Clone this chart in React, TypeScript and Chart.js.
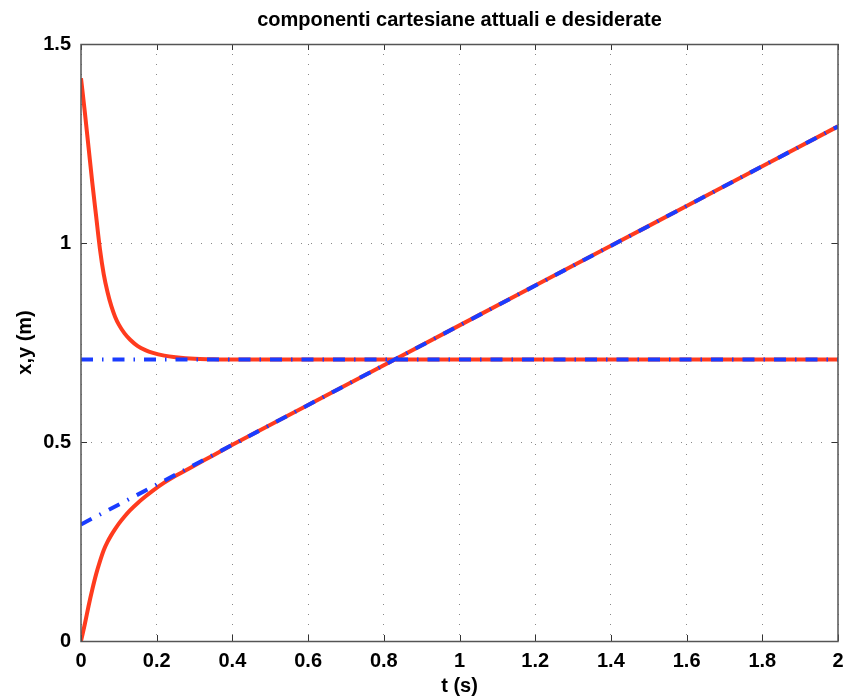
import React, { useEffect, useRef } from "react";
import { Chart, registerables } from "chart.js";

Chart.register(...registerables);

// time samples of the actual (measured) trajectories
const tActual = [0, 0.01, 0.02, 0.03, 0.04, 0.05, 0.06, 0.07, 0.08, 0.09, 0.1, 0.115, 0.13, 0.15, 0.17, 0.19, 0.22, 0.25, 0.3, 0.35, 0.4, 0.6, 0.8, 1.0, 1.2, 1.4, 1.6, 1.8, 2.0];
// actual x component (falls from 1.414 to 0.707)
const xActual = [1.414, 1.33, 1.24, 1.15, 1.067, 0.985, 0.922, 0.877, 0.842, 0.815, 0.795, 0.773, 0.757, 0.741, 0.731, 0.724, 0.717, 0.713, 0.709, 0.708, 0.707, 0.707, 0.707, 0.707, 0.707, 0.707, 0.707, 0.707, 0.707];
// actual y component (rises from 0 onto the desired ramp)
const yActual = [0, 0.042, 0.088, 0.13, 0.168, 0.2, 0.228, 0.249, 0.266, 0.281, 0.295, 0.313, 0.329, 0.347, 0.363, 0.378, 0.398, 0.415, 0.441, 0.467, 0.493, 0.593, 0.693, 0.793, 0.893, 0.993, 1.093, 1.193, 1.293];

// desired trajectories
const tDesired = [0, 2];
const xDesired = [0.7071, 0.7071];
const yDesired = [0.2929, 1.2929];

// axis ticks
const xTicks = [0, 0.2, 0.4, 0.6, 0.8, 1, 1.2, 1.4, 1.6, 1.8, 2];
const xTickLabels = ["0", "0.2", "0.4", "0.6", "0.8", "1", "1.2", "1.4", "1.6", "1.8", "2"];
const yTicks = [0, 0.5, 1, 1.5];
const yTickLabels = ["0", "0.5", "1", "1.5"];

const RED = "#ff3b1e";
const BLUE = "#1a3cff";
const FONT = "'Liberation Sans', Arial, Helvetica, sans-serif";

const framePlugin = {
  id: "frame",
  afterDatasetsDraw(chart: any) {
    const { ctx, chartArea } = chart;
    const { left, right, top, bottom } = chartArea;
    const xs = chart.scales.x;
    const ys = chart.scales.y;
    ctx.save();
    ctx.strokeStyle = "#333";
    ctx.lineWidth = 1;
    ctx.setLineDash([]);
    const L = 6;
    ctx.beginPath();
    xTicks.forEach((v) => {
      const px = Math.round(xs.getPixelForValue(v)) + 0.5;
      ctx.moveTo(px, bottom);
      ctx.lineTo(px, bottom - L);
      ctx.moveTo(px, top);
      ctx.lineTo(px, top + L);
    });
    yTicks.forEach((v) => {
      const py = Math.round(ys.getPixelForValue(v)) + 0.5;
      ctx.moveTo(left, py);
      ctx.lineTo(left + L, py);
      ctx.moveTo(right, py);
      ctx.lineTo(right - L, py);
    });
    ctx.stroke();
    ctx.strokeStyle = "#555";
    ctx.lineWidth = 1.5;
    ctx.strokeRect(Math.round(left), Math.round(top) + 0.5, Math.round(right - left), Math.round(bottom - top));
    ctx.restore();
  },
};

export default function App() {
  const ref = useRef<HTMLCanvasElement>(null);
  useEffect(() => {
    if (!ref.current) return;
    Chart.defaults.font.family = FONT;
    const chart = new Chart(ref.current, {
      type: "line",
      data: {
        datasets: [
          {
            label: "x desiderata",
            data: tDesired.map((t, i) => ({ x: t, y: xDesired[i] })),
            borderColor: BLUE,
            borderWidth: 4,
            borderDash: [12, 9, 1.5, 9],
            borderCapStyle: "butt",
            pointRadius: 0,
            fill: false,
            order: 0,
          },
          {
            label: "y desiderata",
            data: tDesired.map((t, i) => ({ x: t, y: yDesired[i] })),
            borderColor: BLUE,
            borderWidth: 4,
            borderDash: [12, 9, 1.5, 9],
            borderCapStyle: "butt",
            pointRadius: 0,
            fill: false,
            order: 0,
          },
          {
            label: "x attuale",
            data: tActual.map((t, i) => ({ x: t, y: xActual[i] })),
            borderColor: RED,
            borderWidth: 4,
            cubicInterpolationMode: "monotone",
            pointRadius: 0,
            fill: false,
            order: 1,
          },
          {
            label: "y attuale",
            data: tActual.map((t, i) => ({ x: t, y: yActual[i] })),
            borderColor: RED,
            borderWidth: 4,
            cubicInterpolationMode: "monotone",
            pointRadius: 0,
            fill: false,
            order: 1,
          },
        ],
      },
      options: {
        responsive: false,
        animation: false,
        layout: { padding: { left: 0, right: 5, top: 0, bottom: 0 } },
        plugins: {
          legend: { display: false },
          tooltip: { enabled: false },
          title: {
            display: true,
            text: "componenti cartesiane attuali e desiderate",
            fullSize: false,
            color: "#000",
            font: { size: 20, weight: "bold", family: FONT, lineHeight: 1.2 },
            padding: { top: 8, bottom: 12 },
          },
        },
        scales: {
          x: {
            type: "linear",
            min: 0,
            max: 2,
            afterBuildTicks: (s: any) => {
              s.ticks = xTicks.map((v) => ({ value: v }));
            },
            afterFit: (s: any) => {
              s.height = 59;
              s.paddingLeft = 0;
              s.paddingRight = 0;
            },
            ticks: {
              color: "#000",
              font: { size: 20, weight: "bold", family: FONT },
              padding: 8,
              maxRotation: 0,
              autoSkip: false,
              callback: (_v: any, i: number) => xTickLabels[i],
            },
            grid: { color: "#888", lineWidth: 1, drawTicks: false },
            border: { display: false, dash: [1, 9] },
            title: {
              display: true,
              text: "t (s)",
              color: "#000",
              font: { size: 20, weight: "bold", family: FONT, lineHeight: 1.2 },
              padding: { top: 0, bottom: 2 },
            },
          },
          y: {
            type: "linear",
            min: 0,
            max: 1.5,
            afterBuildTicks: (s: any) => {
              s.ticks = yTicks.map((v) => ({ value: v }));
            },
            afterFit: (s: any) => {
              s.width = 81;
              s.paddingTop = 0;
              s.paddingBottom = 0;
            },
            ticks: {
              color: "#000",
              font: { size: 20, weight: "bold", family: FONT },
              padding: 10,
              autoSkip: false,
              callback: (_v: any, i: number) => yTickLabels[i],
            },
            grid: { color: "#888", lineWidth: 1, drawTicks: false },
            border: { display: false, dash: [1, 9] },
            title: {
              display: true,
              text: "x,y (m)",
              color: "#000",
              font: { size: 20, weight: "bold", family: FONT, lineHeight: 1.2 },
              padding: { top: 13, bottom: 0 },
            },
          },
        },
      },
      plugins: [framePlugin],
    } as any);
    return () => chart.destroy();
  }, []);
  return (
    <div style={{ position: "fixed", left: 0, top: 0, width: 843, height: 700, background: "#fff" }}>
      <canvas ref={ref} width={843} height={700} style={{ display: "block", width: 843, height: 700 }} />
    </div>
  );
}
